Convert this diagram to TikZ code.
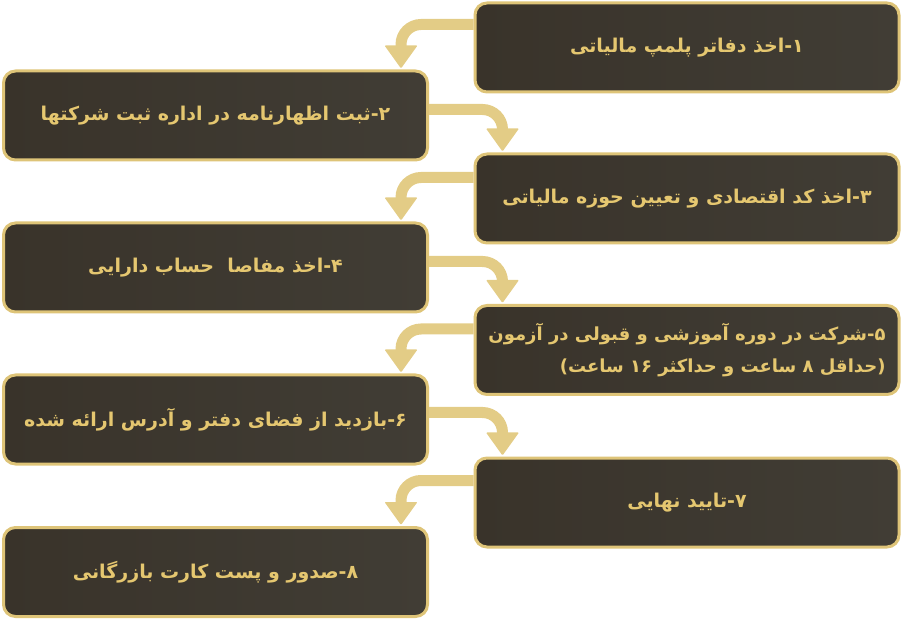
\documentclass[tikz,border=0pt]{standalone}
\usepackage{fontspec}
\newfontfamily\fa[Script=Arabic]{DejaVu Sans}
\TeXXeTstate=1
\usetikzlibrary{calc}
\definecolor{arrowc}{RGB}{227,204,134}
\definecolor{borderc}{RGB}{222,196,120}
\definecolor{textc}{RGB}{229,199,112}
\definecolor{boxl}{RGB}{57,51,42}
\definecolor{boxr}{RGB}{65,61,53}
\begin{document}
\begin{tikzpicture}[x=1pt,y=-1pt,
  box/.style={rounded corners=12pt, draw=borderc, line width=3pt,
    left color=boxl, right color=boxr, minimum width=424pt, minimum height=89pt,
    inner sep=0pt, text=textc, font=\fa\bfseries\fontsize{19}{32}\selectfont},
  shaft/.style={draw=arrowc, line width=11pt, rounded corners=20pt},
  head/.style={fill=arrowc, rounded corners=1pt}]
\useasboundingbox (0,0) rectangle (903,620);
\node[box] (b1) at (687,47.5) {\beginR ۱-اخذ دفاتر پلمپ مالیاتی\endR};
\node[box] (b2) at (215.5,115.5) {\beginR ۲-ثبت اظهارنامه در اداره ثبت شرکتها\endR};
\node[box] (b3) at (687,198.5) {\beginR ۳-اخذ کد اقتصادی و تعیین حوزه مالیاتی\endR};
\node[box] (b4) at (215.5,267.5) {\beginR ۴-اخذ مفاصا\ \ حساب دارایی\endR};
\node[box,align=right,font=\fa\bfseries\fontsize{18}{32}\selectfont] (b5) at (687,350) {\beginR ۵-شرکت در دوره آموزشی و قبولی در آزمون\endR\\\beginR (حداقل ۸ ساعت و حداکثر \beginL۱۶\endL{} ساعت)\endR};
\node[box] (b6) at (215.5,419.5) {\beginR ۶-بازدید از فضای دفتر و آدرس ارائه شده\endR};
\node[box] (b7) at (687,502.5) {\beginR ۷-تایید نهایی\endR};
\node[box] (b8) at (215.5,572) {\beginR ۸-صدور و پست کارت بازرگانی\endR};
% tips
\coordinate (t2) at ($(b2.north east)+(-28,-1)$);
\coordinate (t3) at ($(b3.north west)+(29,-1)$);
\coordinate (t4) at ($(b4.north east)+(-28,-1)$);
\coordinate (t5) at ($(b5.north west)+(29,-1)$);
\coordinate (t6) at ($(b6.north east)+(-28,-1)$);
\coordinate (t7) at ($(b7.north west)+(29,-1)$);
\coordinate (t8) at ($(b8.north east)+(-28,-1)$);
% connectors
\draw[shaft] ($(b1.north west)+(0,23)$) -| ($(t2)+(0,-22)$);
\fill[head] ($(t2)+(-16.5,-23)$) -- ($(t2)+(16.5,-23)$) -- (t2) -- cycle;
\draw[shaft] ($(b2.north east)+(0,40)$) -| ($(t3)+(0,-22)$);
\fill[head] ($(t3)+(-16.5,-23)$) -- ($(t3)+(16.5,-23)$) -- (t3) -- cycle;
\draw[shaft] ($(b3.north west)+(0,25)$) -| ($(t4)+(0,-22)$);
\fill[head] ($(t4)+(-16.5,-23)$) -- ($(t4)+(16.5,-23)$) -- (t4) -- cycle;
\draw[shaft] ($(b4.north east)+(0,40)$) -| ($(t5)+(0,-22)$);
\fill[head] ($(t5)+(-16.5,-23)$) -- ($(t5)+(16.5,-23)$) -- (t5) -- cycle;
\draw[shaft] ($(b5.north west)+(0,25)$) -| ($(t6)+(0,-22)$);
\fill[head] ($(t6)+(-16.5,-23)$) -- ($(t6)+(16.5,-23)$) -- (t6) -- cycle;
\draw[shaft] ($(b6.north east)+(0,39)$) -| ($(t7)+(0,-22)$);
\fill[head] ($(t7)+(-16.5,-23)$) -- ($(t7)+(16.5,-23)$) -- (t7) -- cycle;
\draw[shaft] ($(b7.north west)+(0,24)$) -| ($(t8)+(0,-22)$);
\fill[head] ($(t8)+(-16.5,-23)$) -- ($(t8)+(16.5,-23)$) -- (t8) -- cycle;
\end{tikzpicture}
\end{document}
